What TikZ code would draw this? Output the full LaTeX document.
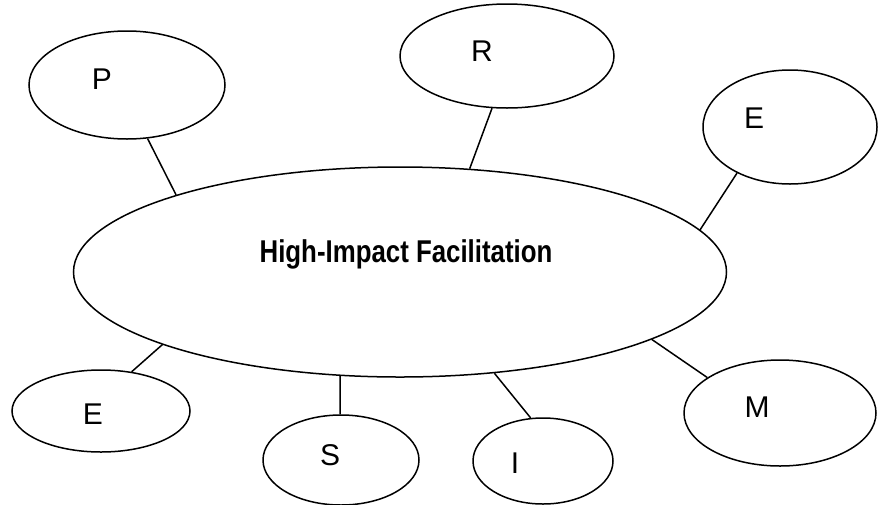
\documentclass[tikz,border=0pt]{standalone}
\usepackage{fontspec}
\setmainfont{Liberation Sans}
\newfontfamily\narrowbold[FakeStretch=0.82]{Liberation Sans Bold}
\usetikzlibrary{shapes.geometric}
\begin{document}
\begin{tikzpicture}
[x=1pt, y=-1pt, line width=1.5pt,
       bubble/.style={draw, ellipse, inner sep=0pt},
       letter/.style={font=\fontsize{30}{30}\selectfont, inner sep=0pt}]
  \useasboundingbox (0,0) rectangle (880,504);
  \node[bubble, minimum width=653pt, minimum height=210pt] (hub) at (400,272) {}; % centre
  \node[font=\narrowbold\fontsize{31.5}{31.5}\selectfont, inner sep=0pt] (title) at (406,254) {High-Impact Facilitation};
  \node[bubble, minimum width=196pt, minimum height=108pt] (P) at (127,85) {};
  \node[bubble, minimum width=214pt, minimum height=104pt] (R) at (507,56) {};
  \node[bubble, minimum width=174pt, minimum height=114pt] (E1) at (790,127) {};
  \node[bubble, minimum width=178pt, minimum height=82pt] (E2) at (101,411) {};
  \node[bubble, minimum width=156pt, minimum height=90pt] (S) at (341,460) {};
  \node[bubble, minimum width=140pt, minimum height=86pt] (I) at (543,461) {};
  \node[bubble, minimum width=192pt, minimum height=106pt] (M) at (780,413) {};
  % letters
  \node[letter] (Ptext) at (102,79) {P};
  \node[letter] (Rtext) at (482,51) {R};
  \node[letter] (E1text) at (754,118) {E};
  \node[letter] (E2text) at (93,414) {E};
  \node[letter] (Stext) at (330,455) {S};
  \node[letter] (Itext) at (515,463) {I};
  \node[letter] (Mtext) at (757,407) {M};
  % spokes
  \draw (P.-69) -- (hub.161);
  \draw (R.-106) -- (hub.56);
  \draw (E1.221) -- (hub.8);
  \draw (E2.52) -- (hub.197);
  \draw (S.91) -- (hub.240);
  \draw (I.106) -- (hub.-47);
  \draw (M.154) -- (hub.-15);
\end{tikzpicture}
\end{document}
